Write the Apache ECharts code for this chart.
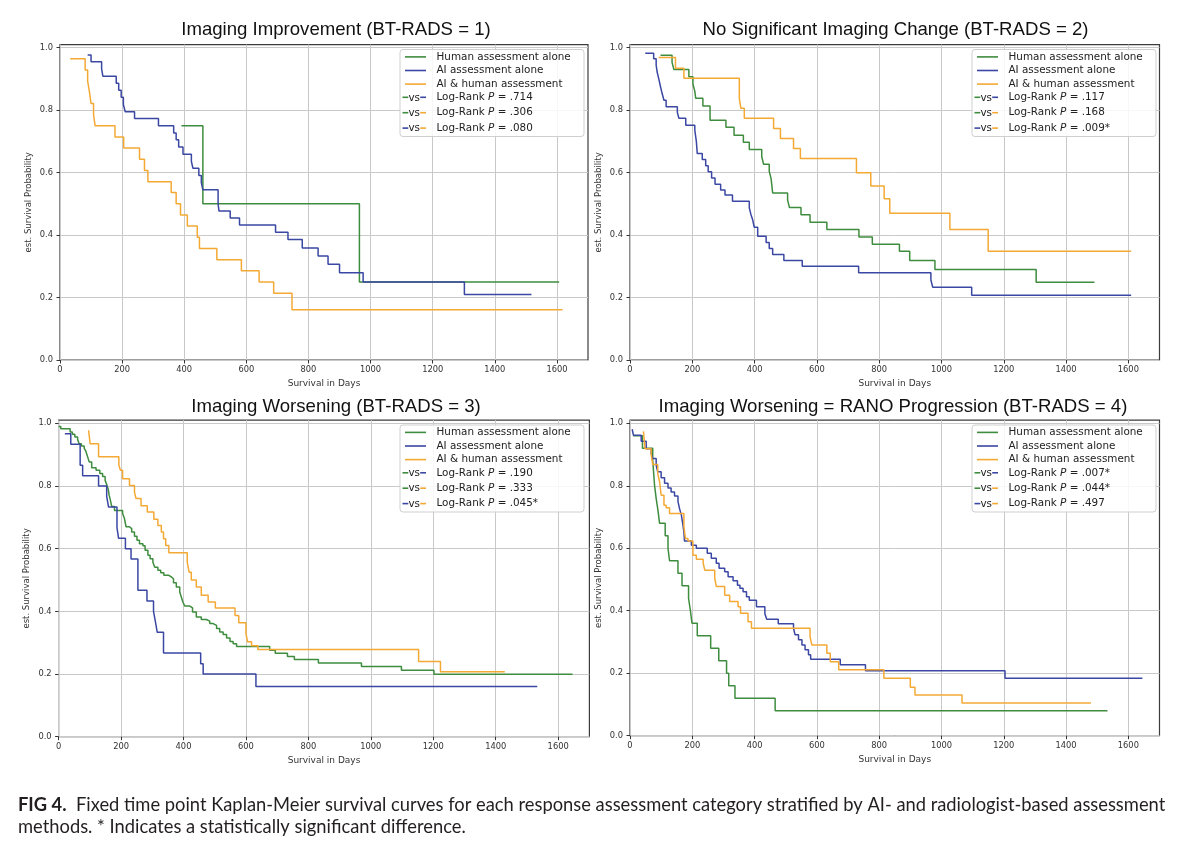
<!DOCTYPE html>
<html>
<head>
<meta charset="utf-8">
<script src="https://cdn.jsdelivr.net/npm/echarts@6/dist/echarts.min.js"></script>
<style>html,body{margin:0;padding:0;background:#fff}#c{width:1200px;height:850px}</style>
</head>
<body>
<div id="c"></div>
<script>
// ---------- DATA (days, estimated survival probability) ----------
const seriesNames = ['Human assessment alone', 'AI assessment alone', 'AI & human assessment'];
const panelTitles = [
  'Imaging Improvement (BT-RADS = 1)',
  'No Significant Imaging Change (BT-RADS = 2)',
  'Imaging Worsening (BT-RADS = 3)',
  'Imaging Worsening = RANO Progression (BT-RADS = 4)'
];
const xTicks = [0, 200, 400, 600, 800, 1000, 1200, 1400, 1600];
const yTicks = [0, 0.2, 0.4, 0.6, 0.8, 1.0];
// log-rank p values: [human vs AI, human vs AI&human, AI vs AI&human]
const p1P = ['.714', '.306', '.080'];
const p2P = ['.117', '.168', '.009*'];
const p3P = ['.190', '.333', '.045*'];
const p4P = ['.007*', '.044*', '.497'];

const p1Human = [[391,0.75],[460,0.5],[964,0.25],[1607,0.25]];
const p1AI = [[89,0.977],[100,0.955],[134,0.932],[138,0.909],[181,0.886],[189,0.864],[197,0.841],[204,0.818],[210,0.795],[240,0.773],[317,0.75],[366,0.727],[374,0.705],[382,0.682],[396,0.659],[423,0.636],[428,0.614],[447,0.591],[455,0.568],[460,0.545],[509,0.5],[512,0.477],[548,0.455],[578,0.432],[694,0.409],[734,0.386],[780,0.359],[831,0.333],[863,0.307],[900,0.279],[976,0.25],[1302,0.21],[1518,0.21]];
const p1Both = [[33,0.965],[81,0.929],[89,0.893],[95,0.857],[100,0.821],[108,0.786],[113,0.75],[177,0.714],[205,0.679],[256,0.643],[272,0.607],[283,0.571],[358,0.536],[374,0.5],[388,0.464],[410,0.429],[442,0.393],[449,0.357],[505,0.321],[584,0.286],[641,0.25],[688,0.214],[747,0.161],[1618,0.161]];

const p2Human = [[98,0.976],[135,0.953],[141,0.93],[189,0.907],[202,0.884],[208,0.861],[211,0.838],[234,0.813],[257,0.768],[308,0.745],[334,0.72],[364,0.697],[383,0.674],[423,0.651],[429,0.627],[447,0.604],[453,0.581],[458,0.535],[506,0.512],[512,0.488],[549,0.465],[578,0.441],[632,0.418],[735,0.394],[778,0.371],[865,0.348],[898,0.319],[979,0.29],[1304,0.249],[1491,0.249]];
const p2AI = [[49,0.982],[76,0.965],[84,0.944],[87,0.923],[92,0.902],[98,0.875],[103,0.854],[109,0.832],[116,0.811],[152,0.793],[157,0.774],[179,0.752],[208,0.736],[213,0.7],[216,0.661],[232,0.642],[243,0.622],[251,0.603],[262,0.583],[273,0.563],[291,0.544],[305,0.528],[329,0.508],[383,0.487],[388,0.467],[394,0.448],[399,0.425],[410,0.396],[437,0.376],[447,0.357],[458,0.338],[494,0.319],[553,0.3],[734,0.279],[966,0.256],[972,0.233],[1097,0.207],[1609,0.207]];
const p2Both = [[92,0.969],[146,0.934],[173,0.902],[351,0.838],[356,0.806],[367,0.774],[461,0.741],[483,0.709],[525,0.677],[547,0.645],[727,0.6],[773,0.557],[816,0.516],[834,0.47],[1027,0.418],[1150,0.348],[1609,0.348]];

const p3Human = [[0,0.99],[7,0.983],[37,0.972],[44,0.965],[52,0.956],[61,0.948],[66,0.935],[73,0.928],[82,0.92],[87,0.912],[93,0.893],[98,0.877],[106,0.858],[120,0.85],[132,0.84],[141,0.83],[149,0.818],[155,0.802],[159,0.789],[162,0.77],[166,0.754],[170,0.735],[179,0.722],[205,0.712],[211,0.696],[216,0.67],[227,0.664],[234,0.653],[243,0.64],[251,0.627],[259,0.616],[270,0.609],[277,0.595],[286,0.579],[293,0.568],[302,0.557],[308,0.541],[318,0.531],[327,0.523],[337,0.515],[353,0.51],[361,0.504],[368,0.491],[377,0.478],[388,0.462],[393,0.446],[398,0.43],[404,0.417],[420,0.411],[429,0.398],[441,0.382],[457,0.374],[473,0.369],[484,0.361],[495,0.355],[506,0.345],[516,0.334],[527,0.326],[538,0.315],[549,0.304],[559,0.297],[570,0.288],[676,0.276],[694,0.266],[733,0.256],[755,0.246],[832,0.235],[970,0.224],[1098,0.212],[1202,0.199],[1646,0.199]];
const p3AI = [[20,0.967],[39,0.933],[69,0.866],[77,0.833],[128,0.8],[154,0.767],[160,0.733],[187,0.667],[192,0.633],[214,0.6],[232,0.567],[254,0.467],[283,0.433],[304,0.4],[310,0.367],[316,0.333],[336,0.267],[455,0.233],[463,0.2],[632,0.16],[1533,0.16]];
const p3Both = [[96,0.978],[101,0.935],[128,0.893],[193,0.866],[198,0.85],[205,0.823],[227,0.802],[243,0.78],[248,0.76],[264,0.737],[284,0.717],[305,0.694],[318,0.674],[329,0.653],[336,0.632],[343,0.61],[353,0.587],[412,0.557],[418,0.525],[425,0.5],[441,0.478],[457,0.451],[479,0.43],[502,0.411],[565,0.387],[577,0.364],[600,0.33],[605,0.303],[618,0.29],[638,0.278],[1153,0.24],[1223,0.207],[1429,0.207]];

const p4Human = [[10,0.96],[40,0.92],[73,0.88],[76,0.84],[79,0.8],[84,0.76],[90,0.72],[95,0.68],[113,0.64],[122,0.6],[127,0.56],[154,0.52],[167,0.48],[188,0.44],[194,0.4],[199,0.36],[216,0.32],[259,0.28],[285,0.24],[310,0.2],[317,0.16],[337,0.12],[466,0.08],[1533,0.08]];
const p4AI = [[7,0.981],[11,0.962],[36,0.943],[52,0.919],[68,0.903],[73,0.887],[84,0.866],[89,0.845],[100,0.826],[111,0.808],[122,0.793],[132,0.78],[143,0.767],[154,0.75],[159,0.727],[165,0.706],[170,0.674],[173,0.653],[175,0.623],[197,0.61],[213,0.6],[248,0.584],[261,0.568],[277,0.552],[286,0.536],[304,0.525],[315,0.509],[331,0.496],[345,0.482],[353,0.472],[363,0.461],[374,0.445],[383,0.434],[406,0.413],[433,0.39],[439,0.373],[476,0.358],[525,0.344],[530,0.323],[541,0.307],[552,0.29],[562,0.275],[573,0.259],[580,0.245],[675,0.227],[756,0.208],[1204,0.184],[1645,0.184]];
const p4Both = [[43,0.974],[46,0.946],[48,0.919],[68,0.9],[73,0.868],[89,0.839],[95,0.813],[100,0.77],[109,0.738],[116,0.73],[127,0.711],[173,0.67],[178,0.631],[186,0.623],[202,0.578],[213,0.565],[235,0.552],[240,0.53],[272,0.504],[277,0.478],[304,0.45],[320,0.43],[347,0.413],[355,0.392],[379,0.365],[390,0.344],[578,0.317],[584,0.29],[632,0.264],[643,0.237],[670,0.211],[815,0.184],[900,0.155],[915,0.13],[1066,0.105],[1480,0.105]];

const captionBold = 'FIG 4.';
const captionLine1 = 'Fixed time point Kaplan-Meier survival curves for each response assessment category stratified by AI- and radiologist-based assessment';
const captionLine2 = 'methods. * Indicates a statistically significant difference.';

// ---------- STYLE / LAYOUT ----------
const colors = ['#3e8c3e', '#3a47a3', '#f4a935'];
const panelData = [[p1Human, p1AI, p1Both], [p2Human, p2AI, p2Both], [p3Human, p3AI, p3Both], [p4Human, p4AI, p4Both]];
const panelP = [p1P, p2P, p3P, p4P];
const layout = [
  {left: 60,   top: 44.6,  width: 528,   height: 315.4, tx: 336,   ty: 30,    lx: 400, ly: 49.5},
  {left: 630,  top: 44.6,  width: 529.5, height: 315.4, tx: 895.5, ty: 30,    lx: 972, ly: 49.5},
  {left: 58.6, top: 420.2, width: 530.8, height: 316.5, tx: 336,   ty: 406.7, lx: 400, ly: 425},
  {left: 630,  top: 420.2, width: 529.5, height: 315.5, tx: 893,   ty: 406.7, lx: 972, ly: 425}
];
const vsPairs = [[0, 1], [0, 2], [1, 2]];
const DJ = 'DejaVu Sans';
const LS = 'Liberation Sans';

const grids = [], xAxes = [], yAxes = [], series = [], legends = [], graphics = [];
layout.forEach((L, i) => {
  grids.push({left: L.left, top: L.top, width: L.width, height: L.height, show: true,
    borderColor: '#3c3c3c', borderWidth: 1.2, backgroundColor: 'transparent', containLabel: false, outerBoundsMode: 'none'});
  xAxes.push({type: 'value', gridIndex: i, min: 0, max: 1700, interval: 200,
    name: 'Survival in Days', nameLocation: 'middle', nameGap: 19,
    nameTextStyle: {fontFamily: DJ, fontSize: 9, color: '#333'},
    axisLine: {show: false},
    axisTick: {show: true, length: 3.5, lineStyle: {color: '#333', width: 1}, customValues: xTicks},
    axisLabel: {show: true, fontFamily: DJ, fontSize: 8.3, color: '#333', margin: 6, customValues: xTicks,
      formatter: v => (xTicks.indexOf(v) >= 0 ? String(v) : '')},
    splitLine: {show: true, lineStyle: {color: '#c9c9c9', width: 1}}
  });
  yAxes.push({type: 'value', gridIndex: i, min: 0, max: 1.01, interval: 0.2,
    name: 'est. Survival Probability', nameLocation: 'middle', nameGap: 27,
    nameTextStyle: {fontFamily: DJ, fontSize: 8.5, color: '#333'},
    axisLine: {show: false},
    axisTick: {show: true, length: 3.5, lineStyle: {color: '#333', width: 1}, customValues: yTicks},
    axisLabel: {show: true, fontFamily: DJ, fontSize: 8.3, color: '#333', margin: 7, customValues: yTicks,
      formatter: v => (Math.abs(v * 5 - Math.round(v * 5)) < 1e-6 && v <= 1.0001 ? v.toFixed(1) : '')},
    splitLine: {show: true, lineStyle: {color: '#c9c9c9', width: 1}}
  });
  panelData[i].forEach((d, k) => {
    series.push({type: 'line', name: seriesNames[k], xAxisIndex: i, yAxisIndex: i, data: d,
      step: 'end', symbol: 'none', showSymbol: false, color: colors[k],
      lineStyle: {color: colors[k], width: 1.5}, z: 2, animation: false, silent: true});
  });
  // legend frame
  graphics.push({type: 'rect', z: 3, shape: {x: L.lx, y: L.ly, width: 184, height: 87, r: 3},
    style: {fill: 'rgba(255,255,255,0.85)', stroke: '#cfcfcf', lineWidth: 1}});
  legends.push({data: seriesNames, orient: 'vertical', left: L.lx + 5, top: L.ly + 0.6, padding: 0,
    itemGap: 0, itemWidth: 21, itemHeight: 1.6, icon: 'rect', z: 5, selectedMode: false,
    itemStyle: {borderWidth: 0},
    lineStyle: {width: 1.6},
    textStyle: {fontFamily: DJ, fontSize: 10.4, color: '#222', lineHeight: 13.6, padding: [0, 0, 0, 5.5]}});
  const rowsY = [47.8, 63.2, 78.6];
  vsPairs.forEach((pr, r) => {
    const y = L.ly + rowsY[r];
    graphics.push({type: 'line', z: 6, shape: {x1: L.lx + 2.5, y1: y, x2: L.lx + 8.3, y2: y},
      style: {stroke: colors[pr[0]], lineWidth: 1.6}});
    graphics.push({type: 'text', z: 6, x: L.lx + 14.2, y: y + 0.5,
      style: {text: 'vs', fill: '#222', fontFamily: DJ, fontSize: 10.4, verticalAlign: 'middle', align: 'center'}});
    graphics.push({type: 'line', z: 6, shape: {x1: L.lx + 20.2, y1: y, x2: L.lx + 26, y2: y},
      style: {stroke: colors[pr[1]], lineWidth: 1.6}});
    graphics.push({type: 'text', z: 6, x: L.lx + 36.5, y: y,
      style: {text: 'Log-Rank {i|P} = ' + panelP[i][r], fill: '#222', fontFamily: DJ, fontSize: 10.4, verticalAlign: 'middle', align: 'left',
        rich: {i: {fill: '#222', fontFamily: DJ, fontSize: 10.4, fontStyle: 'italic'}}}});
  });
  graphics.push({type: 'text', z: 6, x: L.tx, y: L.ty,
    style: {text: panelTitles[i], fill: '#111', fontFamily: LS, fontSize: 18.6, align: 'center', verticalAlign: 'middle'}});
});

// caption: fit first line width to reference
const cv = document.createElement('canvas').getContext('2d');
const CF = "Lato, 'Open Sans', sans-serif";
cv.font = 'bold 16px ' + CF;
let wB = cv.measureText(captionBold + '  ').width;
cv.font = '16px ' + CF;
let wT = cv.measureText(captionLine1).width;
const capFs = 16 * 1147 / (wB + wT);
graphics.push({type: 'text', z: 6, x: 18, y: 805.5,
  style: {text: '{b|' + captionBold + '}  ' + captionLine1, fill: '#231f20', fontFamily: CF, fontSize: capFs, verticalAlign: 'middle',
    rich: {b: {fontWeight: 'bold', fill: '#231f20', fontFamily: CF, fontSize: capFs}}}});
graphics.push({type: 'text', z: 6, x: 18, y: 827,
  style: {text: captionLine2, fill: '#231f20', fontFamily: CF, fontSize: capFs, verticalAlign: 'middle'}});

const chart = echarts.init(document.getElementById('c'), null, {renderer: 'canvas'});
chart.setOption({
  animation: false,
  backgroundColor: '#ffffff',
  grid: grids, xAxis: xAxes, yAxis: yAxes, series: series, legend: legends,
  graphic: {elements: graphics}
});
</script>
</body>
</html>
